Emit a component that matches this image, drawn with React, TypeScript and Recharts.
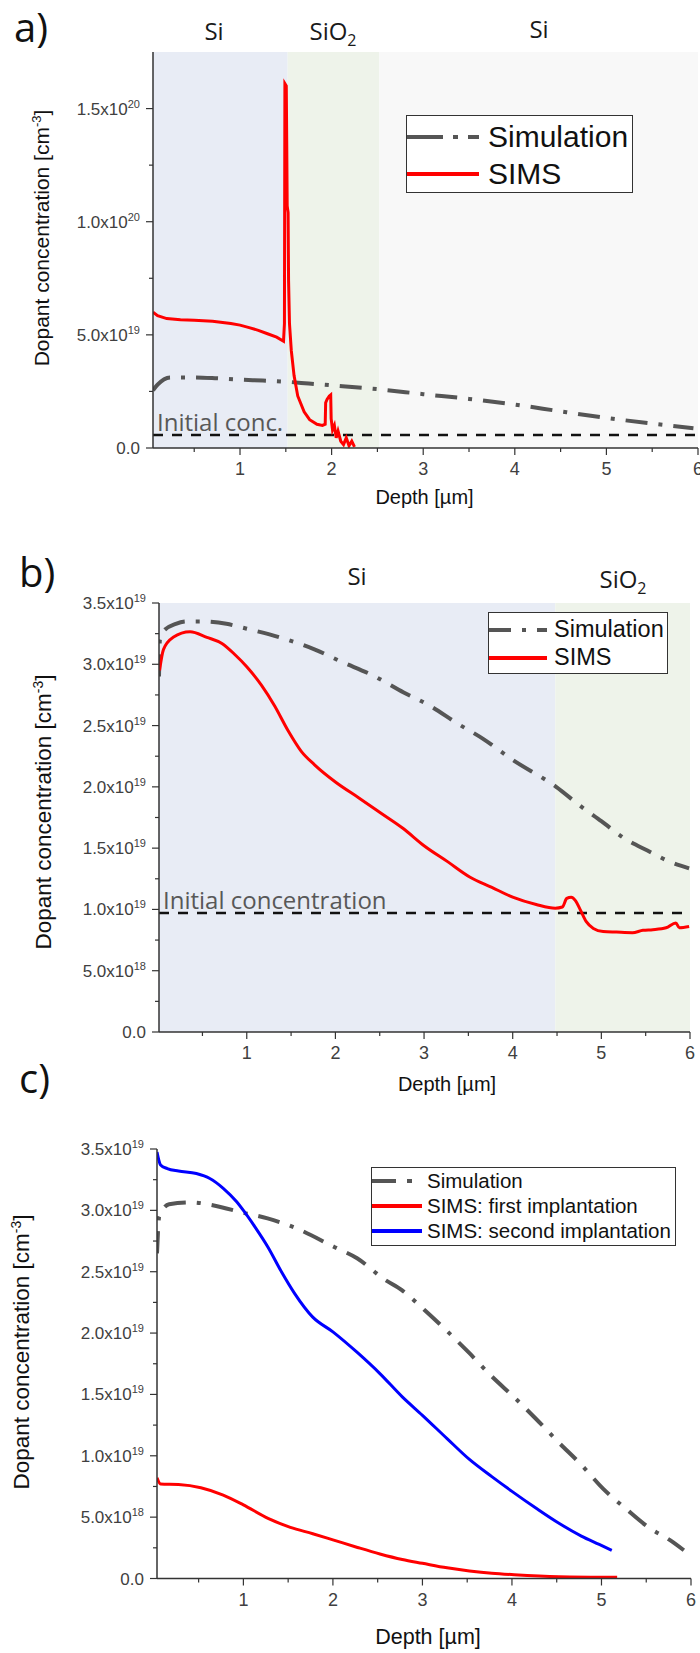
import { Legend, Line, LineChart, ReferenceArea, ReferenceLine, XAxis, YAxis } from "recharts";

const ARIAL = "'Liberation Sans', Arial, sans-serif";
const SOFT = "'Open Sans', 'Noto Sans', sans-serif";

// concentrations in units of 1e19 cm^-3, depth in µm

// panel a
const aSimDepth = [0.05, 0.1, 0.24, 0.5, 0.75, 1.0, 1.25, 1.5, 1.75, 2.0, 2.5, 3.0, 3.5, 4.0, 4.5, 5.0, 5.5, 5.95];
const aSim = [2.55, 2.8, 3.12, 3.12, 3.08, 3.02, 2.98, 2.93, 2.85, 2.77, 2.6, 2.38, 2.17, 1.92, 1.62, 1.33, 1.08, 0.87];
const aSimsDepth = [
  0.05, 0.1, 0.2, 0.35, 0.5, 0.7, 0.9, 1.0, 1.1, 1.2, 1.3, 1.4, 1.475, 1.485, 1.49, 1.505, 1.51, 1.515, 1.525, 1.53,
  1.54, 1.56, 1.59, 1.63, 1.7, 1.76, 1.84, 1.9, 1.93, 1.935, 1.95, 1.975, 1.99, 1.995, 2.01, 2.03, 2.05, 2.07, 2.1,
  2.13, 2.16, 2.19, 2.22, 2.25,
];
const aSims = [
  6.0, 5.85, 5.72, 5.67, 5.65, 5.6, 5.5, 5.43, 5.32, 5.2, 5.05, 4.9, 4.72, 5.5, 16.1, 16.0, 13.5, 10.7, 10.4, 7.4,
  5.5, 4.3, 3.2, 2.3, 1.6, 1.25, 1.05, 1.0, 1.05, 2.0, 2.15, 2.3, 2.35, 1.3, 0.8, 1.0, 0.45, 0.75, 0.3,
  0.15, 0.45, 0.1, 0.3, 0.05,
];
const aInitial = 0.58;
const aLayerEdges = [0.05, 1.52, 2.52, 6];

// panel b
const bSimDepth = [0.01, 0.02, 0.06, 0.2, 0.32, 0.47, 0.77, 1.0, 1.37, 1.77, 2.07, 2.42, 2.77, 3.07, 3.37, 3.67, 4.0, 4.49, 4.77, 5.0, 5.27, 5.52, 5.77, 5.99];
const bSim = [2.9, 3.2, 3.27, 3.33, 3.35, 3.35, 3.33, 3.29, 3.22, 3.12, 3.02, 2.91, 2.77, 2.66, 2.52, 2.39, 2.22, 2.0, 1.84, 1.72, 1.575, 1.48, 1.39, 1.335];
const bSimsDepth = [
  0.016, 0.06, 0.17, 0.36, 0.55, 0.72, 0.865, 1.0, 1.165, 1.315, 1.465, 1.615, 1.765, 2.0, 2.265, 2.515, 2.765, 3.0,
  3.265, 3.515, 3.765, 4.0, 4.265, 4.48, 4.56, 4.61, 4.66, 4.71, 4.76, 4.83, 4.91, 5.02, 5.17, 5.35, 5.47, 5.58, 5.73,
  5.84, 5.88, 5.99,
];
const bSims = [
  2.95, 3.12, 3.22, 3.265, 3.22, 3.17, 3.08, 2.98, 2.83, 2.66, 2.46, 2.29, 2.18, 2.04, 1.91, 1.785, 1.66, 1.52,
  1.39, 1.265, 1.18, 1.1, 1.04, 1.01, 1.02, 1.09, 1.1, 1.07, 1.0, 0.9, 0.845, 0.82, 0.815, 0.81, 0.83, 0.835, 0.85,
  0.89, 0.85, 0.86,
];
const bInitial = 0.97;
const bLayerEdges = [0.01, 4.48, 6];

// panel c
const cSimDepth = [0.035, 0.06, 0.17, 0.42, 0.67, 1.0, 1.27, 1.57, 2.02, 2.27, 2.57, 2.77, 3.02, 3.27, 3.52, 3.77, 4.02, 4.27, 4.52, 4.77, 5.02, 5.27, 5.52, 5.77, 5.92];
const cSim = [2.65, 2.95, 3.05, 3.065, 3.04, 2.98, 2.935, 2.86, 2.7, 2.61, 2.44, 2.35, 2.19, 2.02, 1.84, 1.65, 1.48, 1.3, 1.11, 0.93, 0.73, 0.57, 0.42, 0.31, 0.23];
const cFirstDepth = [0.035, 0.075, 0.275, 0.525, 0.775, 1.0, 1.275, 1.525, 1.775, 2.0, 2.275, 2.525, 2.775, 3.0, 3.275, 3.525, 3.775, 4.025, 4.525, 5.175];
const cFirst = [0.82, 0.77, 0.766, 0.74, 0.68, 0.6, 0.49, 0.417, 0.365, 0.315, 0.253, 0.2, 0.155, 0.124, 0.087, 0.062, 0.043, 0.031, 0.015, 0.01];
const cSecondDepth = [
  0.035, 0.075, 0.15, 0.275, 0.475, 0.625, 0.775, 0.925, 1.0, 1.125, 1.275, 1.425, 1.575, 1.775, 2.0, 2.275, 2.525,
  2.775, 3.0, 3.275, 3.525, 3.775, 4.0, 4.275, 4.525, 4.775, 4.975, 5.115,
];
const cSecond = [
  3.475, 3.37, 3.34, 3.32, 3.3, 3.26, 3.18, 3.07, 3.0, 2.87, 2.7, 2.5, 2.32, 2.13, 2.01, 1.84, 1.67,
  1.48, 1.33, 1.14, 0.97, 0.83, 0.71, 0.57, 0.45, 0.346, 0.278, 0.23,
];

const depthTicks = [0.5, 1, 1.5, 2, 2.5, 3, 3.5, 4, 4.5, 5, 5.5, 6];
const aConcTicks = [0, 2.5, 5, 7.5, 10, 12.5, 15];
const aConcMajor = [0, 5, 10, 15];
const bcConcTicks = [0, 0.25, 0.5, 0.75, 1, 1.25, 1.5, 1.75, 2, 2.25, 2.5, 2.75, 3, 3.25, 3.5];
const bcConcMajor = [0, 0.5, 1, 1.5, 2, 2.5, 3, 3.5];

const SI_BLUE = "#e8ecf5";
const OX_GREEN = "#eef3ea";
const SI_GREY = "#f8f8f8";
const SIM_GREY = "#555555";
const SIM_DASH = "22 11 4 11";

const zip = (xs: number[], ys: number[]) => xs.map((x, i) => ({ x, y: ys[i] }));

function fmtConc(v: number) {
  if (v === 0) return { m: "0.0", e: "" };
  const e = Math.floor(Math.log10(v) + 1e-9);
  return { m: (v / 10 ** e).toFixed(1), e: String(19 + e) };
}

const makeYTick = (axisX: number, majors: number[]) => (p: any) => {
  const { y, payload } = p;
  const major = majors.some((m) => Math.abs(m - payload.value) < 1e-9);
  const { m, e } = fmtConc(payload.value);
  return (
    <g>
      <line x1={axisX - (major ? 7 : 4)} x2={axisX} y1={y} y2={y} stroke="#333" strokeWidth={1.2} />
      {major && (
        <text x={axisX - 13} y={y + 6} textAnchor="end" fontFamily={ARIAL} fontSize={17} fill="#404040">
          {m}
          {e ? "x10" : ""}
          {e ? (
            <tspan dy={-7} fontSize={11}>
              {e}
            </tspan>
          ) : null}
        </text>
      )}
    </g>
  );
};

const makeXTick = (axisY: number) => (p: any) => {
  const { x, payload } = p;
  const major = Number.isInteger(payload.value);
  return (
    <g>
      <line x1={x} x2={x} y1={axisY} y2={axisY + (major ? 7 : 4)} stroke="#333" strokeWidth={1.2} />
      {major && (
        <text x={x} y={axisY + 27} textAnchor="middle" fontFamily={ARIAL} fontSize={18} fill="#404040">
          {payload.value}
        </text>
      )}
    </g>
  );
};

type Item = { label: string; color: string; dash?: string; width: number };

function LegendBox({ items, w, h, rows, lineLen, textX, fontSize }: {
  items: Item[]; w: number; h: number; rows: number[]; lineLen: number; textX: number; fontSize: number;
}) {
  return (
    <div
      style={{
        position: "relative", width: w, height: h, boxSizing: "border-box", border: "1.5px solid #333",
        background: "#fff", fontFamily: ARIAL, fontSize, color: "#111",
      }}
    >
      {items.map((it, i) => (
        <div key={it.label} style={{ position: "absolute", left: 0, top: rows[i] - 15, height: 30, display: "flex", alignItems: "center", whiteSpace: "nowrap" }}>
          <svg width={lineLen} height={8} style={{ display: "block" }}>
            <line x1={0} x2={lineLen} y1={4} y2={4} stroke={it.color} strokeWidth={it.width} strokeDasharray={it.dash} />
          </svg>
          <span style={{ marginLeft: textX - lineLen, lineHeight: 1 }}>{it.label}</span>
        </div>
      ))}
    </div>
  );
}

const simItem: Item = { label: "Simulation", color: SIM_GREY, dash: SIM_DASH, width: 4 };

function PanelA() {
  const axisX = 153;
  const axisY = 448;
  return (
    <LineChart width={700} height={520} margin={{ top: 52, right: 2, bottom: 32, left: 0 }}>
      <XAxis dataKey="x" type="number" domain={[0.05, 6]} allowDataOverflow ticks={depthTicks} interval={0} height={40}
        axisLine={{ stroke: "#333", strokeWidth: 1.5 }} tickLine={false} tick={makeXTick(axisY)} />
      <YAxis type="number" domain={[0, 17.5]} allowDataOverflow ticks={aConcTicks} interval={0} width={axisX}
        axisLine={{ stroke: "#333", strokeWidth: 1.5 }} tickLine={false} tick={makeYTick(axisX, aConcMajor)} />
      {[SI_BLUE, OX_GREEN, SI_GREY].map((c, i) => (
        <ReferenceArea key={c} x1={aLayerEdges[i]} x2={aLayerEdges[i + 1]} fill={c} fillOpacity={1} stroke="none" />
      ))}
      <Line data={zip(aSimDepth, aSim)} dataKey="y" type="monotone" stroke={SIM_GREY} strokeWidth={4}
        strokeDasharray={SIM_DASH} dot={false} isAnimationActive={false} />
      <ReferenceLine y={aInitial} stroke="#111" strokeWidth={2.5} strokeDasharray="10 9"
        label={{ value: "Initial conc.", position: "insideBottomLeft", offset: 4, fill: "#585858", fontSize: 24, fontFamily: SOFT }} />
      <Line data={zip(aSimsDepth, aSims)} dataKey="y" type="linear" stroke="#ff0000" strokeWidth={3}
        dot={false} isAnimationActive={false} />
      <Legend verticalAlign="middle" align="center" layout="horizontal"
        wrapperStyle={{ left: 406, top: 115, width: 227, height: 78 }}
        content={() => (
          <LegendBox w={227} h={78} rows={[21, 58]} lineLen={72} textX={81} fontSize={30}
            items={[{ ...simItem, dash: "36 10 5 10" }, { label: "SIMS", color: "#ff0000", width: 4 }]} />
        )} />
    </LineChart>
  );
}

function PanelB() {
  const axisX = 159;
  const axisY = 472;
  return (
    <LineChart width={700} height={520} margin={{ top: 43, right: 10, bottom: 8, left: 0 }}>
      <XAxis dataKey="x" type="number" domain={[0.01, 6]} allowDataOverflow ticks={depthTicks} interval={0} height={40}
        axisLine={{ stroke: "#333", strokeWidth: 1.5 }} tickLine={false} tick={makeXTick(axisY)} />
      <YAxis type="number" domain={[0, 3.5]} allowDataOverflow ticks={bcConcTicks} interval={0} width={axisX}
        axisLine={{ stroke: "#333", strokeWidth: 1.5 }} tickLine={false} tick={makeYTick(axisX, bcConcMajor)} />
      {[SI_BLUE, OX_GREEN].map((c, i) => (
        <ReferenceArea key={c} x1={bLayerEdges[i]} x2={bLayerEdges[i + 1]} fill={c} fillOpacity={1} stroke="none" />
      ))}
      <Line data={zip(bSimDepth, bSim)} dataKey="y" type="monotone" stroke={SIM_GREY} strokeWidth={4}
        strokeDasharray={SIM_DASH} dot={false} isAnimationActive={false} />
      <ReferenceLine y={bInitial} stroke="#111" strokeWidth={2.5} strokeDasharray="10 9"
        label={{ value: "Initial concentration", position: "insideBottomLeft", offset: 4, fill: "#585858", fontSize: 24, fontFamily: SOFT }} />
      <Line data={zip(bSimsDepth, bSims)} dataKey="y" type="monotone" stroke="#ff0000" strokeWidth={3}
        dot={false} isAnimationActive={false} />
      <Legend verticalAlign="middle" align="center" layout="horizontal"
        wrapperStyle={{ left: 488, top: 52, width: 180, height: 62 }}
        content={() => (
          <LegendBox w={180} h={62} rows={[17, 45]} lineLen={58} textX={65} fontSize={23.5}
            items={[simItem, { label: "SIMS", color: "#ff0000", width: 4 }]} />
        )} />
    </LineChart>
  );
}

function PanelC() {
  const axisX = 157;
  const axisY = 478.5;
  return (
    <LineChart width={700} height={520} margin={{ top: 49, right: 9, bottom: 11.5, left: 0 }}>
      <XAxis dataKey="x" type="number" domain={[0.035, 6]} allowDataOverflow ticks={depthTicks} interval={0} height={30}
        axisLine={{ stroke: "#333", strokeWidth: 1.5 }} tickLine={false} tick={makeXTick(axisY)} />
      <YAxis type="number" domain={[0, 3.5]} allowDataOverflow ticks={bcConcTicks} interval={0} width={axisX}
        axisLine={{ stroke: "#333", strokeWidth: 1.5 }} tickLine={false} tick={makeYTick(axisX, bcConcMajor)} />
      <Line data={zip(cSimDepth, cSim)} dataKey="y" type="monotone" stroke={SIM_GREY} strokeWidth={4}
        strokeDasharray={SIM_DASH} dot={false} isAnimationActive={false} />
      <Line data={zip(cFirstDepth, cFirst)} dataKey="y" type="monotone" stroke="#ff0000" strokeWidth={3}
        dot={false} isAnimationActive={false} />
      <Line data={zip(cSecondDepth, cSecond)} dataKey="y" type="monotone" stroke="#0000ff" strokeWidth={3}
        dot={false} isAnimationActive={false} />
      <Legend verticalAlign="middle" align="center" layout="horizontal"
        wrapperStyle={{ left: 371, top: 67, width: 305, height: 79 }}
        content={() => (
          <LegendBox w={305} h={79} rows={[13, 38, 63]} lineLen={50} textX={55} fontSize={20.5}
            items={[{ ...simItem, dash: "24 11 5 11" },
              { label: "SIMS: first implantation", color: "#ff0000", width: 4 },
              { label: "SIMS: second implantation", color: "#0000ff", width: 4 }]} />
        )} />
    </LineChart>
  );
}

function YTitle({ x, y, size }: { x: number; y: number; size: number }) {
  return (
    <text transform={`translate(${x},${y}) rotate(-90)`} textAnchor="middle" fontFamily={ARIAL} fontSize={size} fill="#111">
      Dopant concentration [cm
      <tspan dy={-8} fontSize={size * 0.62}>-3</tspan>
      <tspan dy={8}>]</tspan>
    </text>
  );
}

function XTitle({ x, y, size }: { x: number; y: number; size: number }) {
  return (
    <text x={x} y={y} textAnchor="middle" fontFamily={ARIAL} fontSize={size} fill="#111">
      Depth [µm]
    </text>
  );
}

function Layer({ x, y, ox }: { x: number; y: number; ox?: boolean }) {
  return (
    <text x={x} y={y} textAnchor="middle" fontFamily={SOFT} fontSize={24} fill="#1a1a1a">
      {ox ? "SiO" : "Si"}
      {ox ? <tspan dy={6} fontSize={16}>2</tspan> : null}
    </text>
  );
}

export default function App() {
  return (
    <div style={{ position: "absolute", left: 0, top: 0, width: 700, height: 1653, background: "#fff" }}>
      <div style={{ position: "absolute", left: 0, top: 0 }}>
        <PanelA />
      </div>
      <div style={{ position: "absolute", left: 0, top: 560 }}>
        <PanelB />
      </div>
      <div style={{ position: "absolute", left: 0, top: 1100 }}>
        <PanelC />
      </div>
      <svg width={700} height={1653} style={{ position: "absolute", left: 0, top: 0, pointerEvents: "none" }}>
        <g fontFamily={SOFT} fontSize={40} fill="#111">
          <text x={14} y={42}>a)</text>
          <text x={19} y={587}>b)</text>
          <text x={19} y={1093}>c)</text>
        </g>
        <Layer x={214} y={40} />
        <Layer x={333} y={40} ox />
        <Layer x={539} y={38} />
        <Layer x={357} y={585} />
        <Layer x={623} y={588} ox />
        <YTitle x={49} y={238} size={21} />
        <YTitle x={50.5} y={812} size={22.5} />
        <YTitle x={28.5} y={1352} size={22.5} />
        <XTitle x={424.5} y={504} size={20} />
        <XTitle x={447} y={1091} size={20} />
        <XTitle x={428} y={1644} size={21.5} />
      </svg>
    </div>
  );
}
